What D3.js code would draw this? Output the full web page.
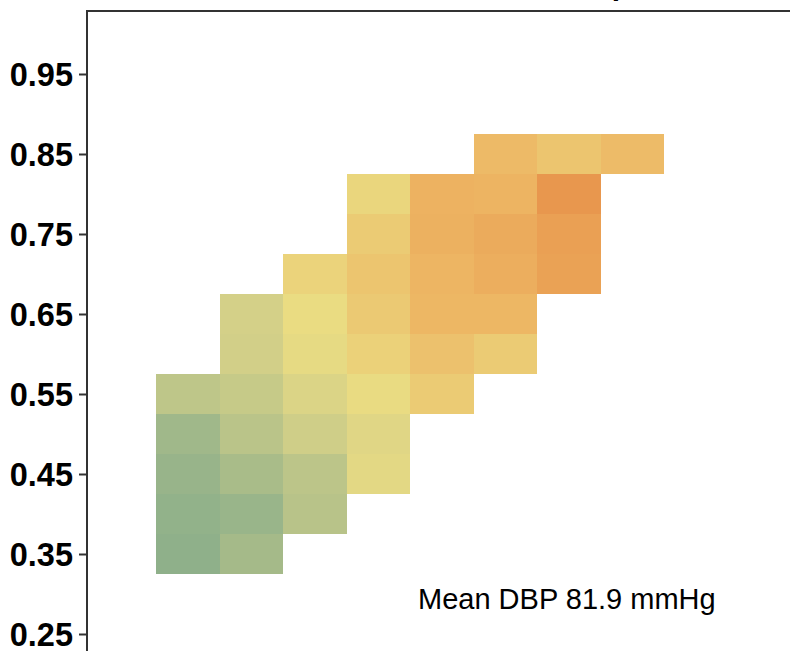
<!DOCTYPE html>
<html>
<head>
<meta charset="utf-8">
<script src="https://cdn.jsdelivr.net/npm/d3@7"></script>
<style>
  html, body { margin: 0; padding: 0; background: #fff; overflow: hidden; }
  svg { display: block; }
</style>
</head>
<body>
<svg id="chart" width="790" height="651"></svg>
<script>
// ---- data ----
const xBins = [0.35, 0.40, 0.45, 0.50, 0.55, 0.60, 0.65, 0.70];
const yTicks = [0.25, 0.35, 0.45, 0.55, 0.65, 0.75, 0.85, 0.95];
// lowest y-bin of each column
const colStart = [0.35, 0.35, 0.40, 0.45, 0.55, 0.60, 0.70, 0.85];
// cell values (0 = green, 1 = deep orange), from bottom row upward
const col1 = [0.00, 0.02, 0.05, 0.10, 0.27];
const col2 = [0.13, 0.06, 0.15, 0.25, 0.32, 0.39, 0.40];
const col3 = [0.24, 0.26, 0.37, 0.45, 0.52, 0.55, 0.61];
const col4 = [0.50, 0.48, 0.54, 0.62, 0.67, 0.70, 0.66, 0.59];
const col5 = [0.66, 0.72, 0.79, 0.80, 0.83, 0.82];
const col6 = [0.66, 0.79, 0.85, 0.87, 0.81, 0.77];
const col7 = [0.93, 0.94, 1.00, 0.70];
const col8 = [0.76];
const columns = [col1, col2, col3, col4, col5, col6, col7, col8];
const annotation = "Mean DBP 81.9 mmHg";
const title = "Heatmap";

// colour stops
const colorStops = [0, 0.4, 0.55, 0.8, 1.0];
const colorRange = ["#8fb08a", "#d4d088", "#eadc82", "#edb563", "#e8974e"];

// ---- build cells ----
const binH = 0.05;
const cells = [];
columns.forEach((vals, ci) => {
  vals.forEach((v, ri) => {
    cells.push({ x: xBins[ci], y: +(colStart[ci] + ri * binH).toFixed(2), v });
  });
});

// ---- scales ----
const svg = d3.select("#chart");
const frameLeft = 87, frameTop = 11;

const x = d3.scaleBand().domain(xBins).range([156, 664]).padding(0);
const y = d3.scaleLinear().domain([0.25, 0.95]).range([634, 74]);
const color = d3.scaleLinear().domain(colorStops).range(colorRange).interpolate(d3.interpolateRgb);

// ---- title (mostly cropped above the view) ----
svg.append("text")
  .attr("x", 630).attr("y", -5)
  .attr("text-anchor", "end")
  .style("font-family", "Liberation Sans, Arial, sans-serif")
  .style("font-weight", "bold")
  .style("font-size", "30px")
  .attr("fill", "#000")
  .text(title);

// ---- cells ----
svg.append("g")
  .selectAll("rect")
  .data(cells)
  .join("rect")
  .attr("x", d => x(d.x))
  .attr("width", x.bandwidth())
  .attr("y", d => y(d.y + binH / 2))
  .attr("height", d => y(d.y - binH / 2) - y(d.y + binH / 2))
  .attr("fill", d => color(d.v))
  .attr("shape-rendering", "crispEdges");

// ---- frame ----
svg.append("path")
  .attr("d", `M${frameLeft},700 V${frameTop} H900`)
  .attr("fill", "none")
  .attr("stroke", "#333")
  .attr("stroke-width", 2);

// ---- y axis ----
const yAxis = d3.axisLeft(y)
  .tickValues(yTicks)
  .tickFormat(d3.format(".2f"))
  .tickSize(8)
  .tickPadding(6);

const gy = svg.append("g")
  .attr("transform", `translate(${frameLeft},0)`)
  .call(yAxis);
gy.select(".domain").remove();
gy.selectAll(".tick line").attr("stroke", "#333").attr("stroke-width", 2);
gy.selectAll(".tick text")
  .attr("fill", "#000")
  .attr("dy", "0.36em")
  .style("font-family", "Liberation Sans, Arial, sans-serif")
  .style("font-weight", "bold")
  .style("font-size", "32.5px");

// ---- annotation ----
svg.append("text")
  .attr("x", 418).attr("y", 609)
  .style("font-family", "Liberation Sans, Arial, sans-serif")
  .style("font-size", "29px")
  .attr("fill", "#000")
  .text(annotation);
</script>
</body>
</html>
